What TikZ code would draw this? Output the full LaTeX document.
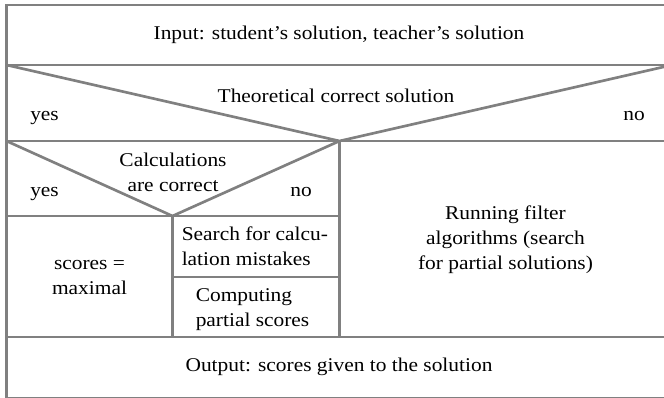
\documentclass[tikz,border=0pt]{standalone}
\usepackage{fontspec}
\setmainfont{Liberation Serif}[FakeStretch=1.1]
\begin{document}
\begin{tikzpicture}[x=0.75pt,y=-0.75pt,
  ln/.style={draw=black!50, line width=2pt},
  txt/.style={inner sep=0pt, font=\fontsize{14.6}{18.75}\selectfont},
  ctxt/.style={txt, align=center},
  ltxt/.style={txt, align=left}]
\useasboundingbox (0,0) rectangle (664,397);
% corners
\coordinate (tl) at (6.5,5);
\coordinate (tr) at (672,5);
\coordinate (bl) at (6.5,398.5);
\coordinate (br) at (672,398.5);
\coordinate (a1) at (6.5,65);   \coordinate (a2) at (672,65);
\coordinate (b1) at (6.5,141);  \coordinate (bm) at (339.5,141); \coordinate (b2) at (672,141);
\coordinate (c1) at (6.5,216);  \coordinate (cm) at (172.5,216); \coordinate (c2) at (339.5,216);
\coordinate (d1) at (172.5,277); \coordinate (d2) at (339.5,277);
\coordinate (e1) at (6.5,337);  \coordinate (em) at (172.5,337); \coordinate (en) at (339.5,337); \coordinate (e2) at (672,337);
% frame and lines
\draw[ln] (tl) -- (tr) -- (br) -- (bl) -- cycle;
\draw[ln] (a1) -- (a2);
\draw[ln] (b1) -- (b2);
\draw[ln] (a1) -- (bm) -- (a2);
\draw[ln] (c1) -- (c2);
\draw[ln] (b1) -- (cm) -- (bm);
\draw[ln] (bm) -- (en);
\draw[ln] (cm) -- (em);
\draw[ln] (d1) -- (d2);
\draw[ln] (e1) -- (e2);
% texts
\node[txt, anchor=base] (input) at (339,39.5) {Input: student’s solution, teacher’s solution};
\node[txt, anchor=base] (theo) at (336,102.5) {Theoretical correct solution};
\node[txt, anchor=base west] (yes1) at (30,120) {yes};
\node[txt, anchor=base east] (no1) at (645,120) {no};
\node[txt, anchor=base] (calc1) at (173,166) {Calculations};
\node[txt, anchor=base] (calc2) at (173,191) {are correct};
\node[txt, anchor=base west] (yes2) at (30,196) {yes};
\node[txt, anchor=base east] (no2) at (312,196) {no};
\node[ctxt] (scores) at (89.5,278) {scores =\\maximal};
\node[ltxt, anchor=north west] (search) at (181.5,227) {Search for calcu-\\lation mistakes};
\node[ltxt, anchor=north west] (comp) at (195.5,288) {Computing\\partial scores};
\node[ctxt] (run) at (505.5,240) {Running filter\\algorithms (search\\for partial solutions)};
\node[txt, anchor=base] (output) at (339,371) {Output: scores given to the solution};
\end{tikzpicture}
\end{document}
